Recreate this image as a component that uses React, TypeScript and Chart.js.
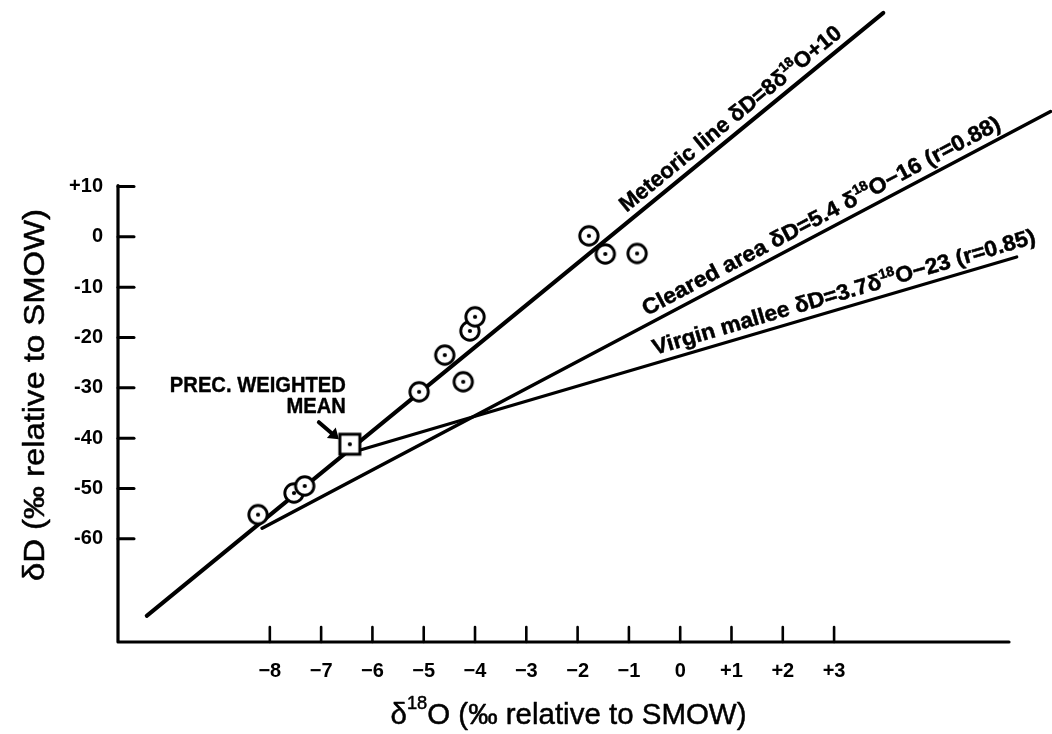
import React, { useEffect, useRef } from 'react';
import { Chart, registerables } from 'chart.js';

Chart.register(...registerables);

// ---------- data ----------
const xTickValues = [-8, -7, -6, -5, -4, -3, -2, -1, 0, 1, 2, 3];
const yTickValues = [-60, -50, -40, -30, -20, -10, 0, 10];

const xMin = -10.96;
const xMax = 6.41;
const yMin = -80.5;
const yMax = 10.5;

// sample points (δ18O, δD)
const sampleO18 = [-8.23, -7.53, -7.32, -5.09, -4.59, -4.23, -4.1, -4.0, -1.78, -1.46, -0.84];
const sampleD = [-55.2, -50.9, -49.5, -30.8, -23.5, -28.8, -18.7, -15.9, 0.2, -3.4, -3.3];

// precipitation-weighted mean
const meanO18 = [-6.44];
const meanD = [-41.2];

// drawn lines (end points)
const meteoricO18 = [-10.4, 3.96];
const meteoricD = [-75.3, 44.5];
const clearedO18 = [-8.15, 7.22];
const clearedD = [-57.9, 24.9];
const virginO18 = [-6.22, 6.56];
const virginD = [-42.3, -4.0];

// labels
type Seg = { t: string; sup?: boolean };
const meteoricLabel: Seg[] = [{ t: 'Meteoric line δD=8δ' }, { t: '18', sup: true }, { t: 'O+10' }];
const clearedLabel: Seg[] = [{ t: 'Cleared area δD=5.4 δ' }, { t: '18', sup: true }, { t: 'O−16 (r=0.88)' }];
const virginLabel: Seg[] = [{ t: 'Virgin mallee δD=3.7δ' }, { t: '18', sup: true }, { t: 'O−23 (r=0.85)' }];
const xTitle: Seg[] = [{ t: 'δ' }, { t: '18', sup: true }, { t: 'O (‰ relative to SMOW)' }];
const yTitle: Seg[] = [{ t: 'δD (‰ relative to SMOW)' }];
const meanLabel = ['PREC. WEIGHTED', 'MEAN'];

const FONT = '"Liberation Sans", Arial, Helvetica, sans-serif';

function drawRich(
  ctx: CanvasRenderingContext2D,
  segs: Seg[],
  x: number,
  y: number,
  angle: number,
  size: number,
  weight: string,
  targetWidth: number | null,
  align: 'left' | 'center' | 'right',
  baseline: CanvasTextBaseline,
  dy = 0,
  embolden = 0
) {
  const supSize = size * 0.62;
  const widths = segs.map((s) => {
    ctx.font = `${weight} ${s.sup ? supSize : size}px ${FONT}`;
    return ctx.measureText(s.t).width;
  });
  const W = widths.reduce((a, b) => a + b, 0);
  const sx = targetWidth ? targetWidth / W : 1;
  ctx.save();
  ctx.translate(x, y);
  ctx.rotate(angle);
  ctx.translate(0, dy);
  ctx.scale(sx, 1);
  let cx = align === 'left' ? 0 : align === 'center' ? -W / 2 : -W;
  ctx.textAlign = 'left';
  ctx.textBaseline = baseline;
  ctx.fillStyle = '#000';
  ctx.strokeStyle = '#000';
  ctx.lineJoin = 'round';
  segs.forEach((s, i) => {
    ctx.font = `${weight} ${s.sup ? supSize : size}px ${FONT}`;
    const ty = s.sup ? -size * 0.42 : 0;
    ctx.fillText(s.t, cx, ty);
    if (embolden > 0) {
      ctx.lineWidth = embolden;
      ctx.strokeText(s.t, cx, ty);
    }
    cx += widths[i];
  });
  ctx.restore();
}

const axisPlugin = {
  id: 'handAxes',
  beforeDatasetsDraw(chart: any) {
    const { ctx, chartArea, scales } = chart;
    const xs = scales.x;
    const ys = scales.y;
    ctx.save();
    ctx.strokeStyle = '#000';
    ctx.lineCap = 'round';
    ctx.lineJoin = 'round';
    ctx.lineWidth = 3.2;
    ctx.beginPath();
    ctx.moveTo(chartArea.left, ys.getPixelForValue(10) - 1);
    ctx.lineTo(chartArea.left, chartArea.bottom);
    ctx.lineTo(chartArea.right, chartArea.bottom);
    ctx.stroke();
    ctx.lineWidth = 3;
    yTickValues.forEach((v) => {
      const py = ys.getPixelForValue(v);
      ctx.beginPath();
      ctx.moveTo(chartArea.left, py);
      ctx.lineTo(chartArea.left + 16, py);
      ctx.stroke();
    });
    ctx.lineWidth = 2.6;
    xTickValues.forEach((v) => {
      const px = xs.getPixelForValue(v);
      ctx.beginPath();
      ctx.moveTo(px, chartArea.bottom);
      ctx.lineTo(px, chartArea.bottom - 15);
      ctx.stroke();
    });
    ctx.restore();
  },
};

const textPlugin = {
  id: 'handText',
  afterDraw(chart: any) {
    const { ctx, chartArea, scales } = chart;
    const xs = scales.x;
    const ys = scales.y;

    const lineLabel = (
      segs: Seg[],
      lx: number[],
      ly: number[],
      anchorX: number,
      gap: number,
      length: number
    ) => {
      const x0 = xs.getPixelForValue(lx[0]);
      const y0 = ys.getPixelForValue(ly[0]);
      const x1 = xs.getPixelForValue(lx[1]);
      const y1 = ys.getPixelForValue(ly[1]);
      const angle = Math.atan2(y1 - y0, x1 - x0);
      const t = (anchorX - lx[0]) / (lx[1] - lx[0]);
      const ay = ly[0] + t * (ly[1] - ly[0]);
      const px = xs.getPixelForValue(anchorX);
      const py = ys.getPixelForValue(ay);
      drawRich(ctx, segs, px, py, angle, 22, 'bold', length, 'left', 'alphabetic', -gap, 0.5);
    };

    lineLabel(meteoricLabel, meteoricO18, meteoricD, -0.95, 8, 280);
    lineLabel(clearedLabel, clearedO18, clearedD, -0.58, 8, 402);
    lineLabel(virginLabel, virginO18, virginD, -0.45, 8, 398);

    // weighted-mean annotation
    const sx = xs.getPixelForValue(meanO18[0]);
    const sy = ys.getPixelForValue(meanD[0]);
    ctx.save();
    ctx.font = `bold 22px ${FONT}`;
    const w1 = ctx.measureText(meanLabel[0]).width;
    const w2 = ctx.measureText(meanLabel[1]).width;
    ctx.restore();
    const k = 176 / w1;
    drawRich(ctx, [{ t: meanLabel[0] }], sx - 4, sy - 52, 0, 22, 'bold', 176, 'right', 'alphabetic', 0, 0.4);
    drawRich(ctx, [{ t: meanLabel[1] }], sx - 4, sy - 31, 0, 22, 'bold', w2 * k, 'right', 'alphabetic', 0, 0.4);

    // arrow
    ctx.save();
    ctx.strokeStyle = '#000';
    ctx.fillStyle = '#000';
    ctx.lineWidth = 4;
    ctx.lineCap = 'round';
    const ax0 = sx - 31, ay0 = sy - 22, ax1 = sx - 17, ay1 = sy - 10;
    ctx.beginPath();
    ctx.moveTo(ax0, ay0);
    ctx.lineTo(ax1, ay1);
    ctx.stroke();
    const ang = Math.atan2(ay1 - ay0, ax1 - ax0);
    const tipX = sx - 11, tipY = sy - 5;
    ctx.beginPath();
    ctx.moveTo(tipX, tipY);
    ctx.lineTo(tipX - 12 * Math.cos(ang - 0.6), tipY - 12 * Math.sin(ang - 0.6));
    ctx.lineTo(tipX - 12 * Math.cos(ang + 0.6), tipY - 12 * Math.sin(ang + 0.6));
    ctx.closePath();
    ctx.fill();
    ctx.restore();

    // axis titles
    const cx = (chartArea.left + chartArea.right) / 2 + 5;
    drawRich(ctx, xTitle, cx, chartArea.bottom + 74, 0, 30, 'normal', 356, 'center', 'middle', 0, 0.5);
    const cy = (chartArea.top + chartArea.bottom) / 2 - 18;
    drawRich(ctx, yTitle, 36, cy, -Math.PI / 2, 30, 'normal', 372, 'center', 'middle', 0, 0.5);
  },
};

function makeCircle(): HTMLCanvasElement {
  const c = document.createElement('canvas');
  c.width = 26;
  c.height = 26;
  const g = c.getContext('2d')!;
  g.beginPath();
  g.arc(13, 13, 9.2, 0, Math.PI * 2);
  g.fillStyle = '#fff';
  g.fill();
  g.lineWidth = 2.9;
  g.strokeStyle = '#000';
  g.stroke();
  g.beginPath();
  g.arc(13, 13, 2.1, 0, Math.PI * 2);
  g.fillStyle = '#000';
  g.fill();
  return c;
}

function makeSquare(): HTMLCanvasElement {
  const c = document.createElement('canvas');
  c.width = 26;
  c.height = 26;
  const g = c.getContext('2d')!;
  g.fillStyle = '#fff';
  g.fillRect(3, 3, 20, 20);
  g.lineWidth = 3;
  g.strokeStyle = '#000';
  g.strokeRect(3, 3, 20, 20);
  g.beginPath();
  g.arc(13, 13, 2.1, 0, Math.PI * 2);
  g.fillStyle = '#000';
  g.fill();
  return c;
}

const toPts = (xs: number[], ys: number[]) => xs.map((x, i) => ({ x, y: ys[i] }));

export default function App() {
  const ref = useRef<HTMLCanvasElement | null>(null);

  useEffect(() => {
    if (!ref.current) return;
    const circle = makeCircle();
    const square = makeSquare();
    const lineDs = (xs: number[], ys: number[], w: number) => ({
      type: 'line' as const,
      data: toPts(xs, ys),
      borderColor: '#000',
      borderWidth: w,
      pointRadius: 0,
      fill: false,
      clip: false as any,
      tension: 0,
      borderCapStyle: 'round' as const,
      order: 1,
    });
    const chart = new Chart(ref.current, {
      type: 'scatter',
      data: {
        datasets: [
          lineDs(meteoricO18, meteoricD, 4),
          lineDs(clearedO18, clearedD, 3.5),
          lineDs(virginO18, virginD, 3.3),
          {
            type: 'scatter',
            data: toPts(sampleO18, sampleD),
            pointStyle: circle as any,
            pointRadius: 10,
            order: 0,
          },
          {
            type: 'scatter',
            data: toPts(meanO18, meanD),
            pointStyle: square as any,
            pointRadius: 10,
            order: 0,
          },
        ] as any,
      },
      options: {
        animation: false,
        responsive: false,
        maintainAspectRatio: false,
        events: [],
        layout: { padding: { top: 184, right: 43, left: 0, bottom: 0 } },
        plugins: { legend: { display: false }, tooltip: { enabled: false } },
        scales: {
          x: {
            type: 'linear',
            position: 'bottom',
            min: xMin,
            max: xMax,
            afterFit: (s: any) => {
              s.height = 92;
            },
            afterBuildTicks: (s: any) => {
              s.ticks = xTickValues.map((v) => ({ value: v }));
            },
            grid: { display: false, drawTicks: false },
            border: { display: false },
            ticks: {
              padding: 17,
              autoSkip: false,
              maxRotation: 0,
              color: '#000',
              font: { family: FONT, size: 20, weight: 'bold' },
              callback: (v: any) => (v > 0 ? '+' + v : v < 0 ? '−' + Math.abs(v) : '0'),
            },
          },
          y: {
            type: 'linear',
            min: yMin,
            max: yMax,
            afterFit: (s: any) => {
              s.width = 118;
            },
            afterBuildTicks: (s: any) => {
              s.ticks = yTickValues.map((v) => ({ value: v }));
            },
            grid: { display: false, drawTicks: false },
            border: { display: false },
            ticks: {
              padding: 15,
              autoSkip: false,
              color: '#000',
              font: { family: FONT, size: 20, weight: 'bold' },
              callback: (v: any) => (v > 0 ? '+' + v : v < 0 ? '-' + Math.abs(v) : '0'),
            },
          },
        },
      } as any,
      plugins: [axisPlugin, textPlugin],
    });
    return () => chart.destroy();
  }, []);

  return (
    <div style={{ position: 'fixed', left: 0, top: 0, width: 1052, height: 734, background: '#fff' }}>
      <canvas ref={ref} width={1052} height={734} style={{ display: 'block' }} />
    </div>
  );
}
